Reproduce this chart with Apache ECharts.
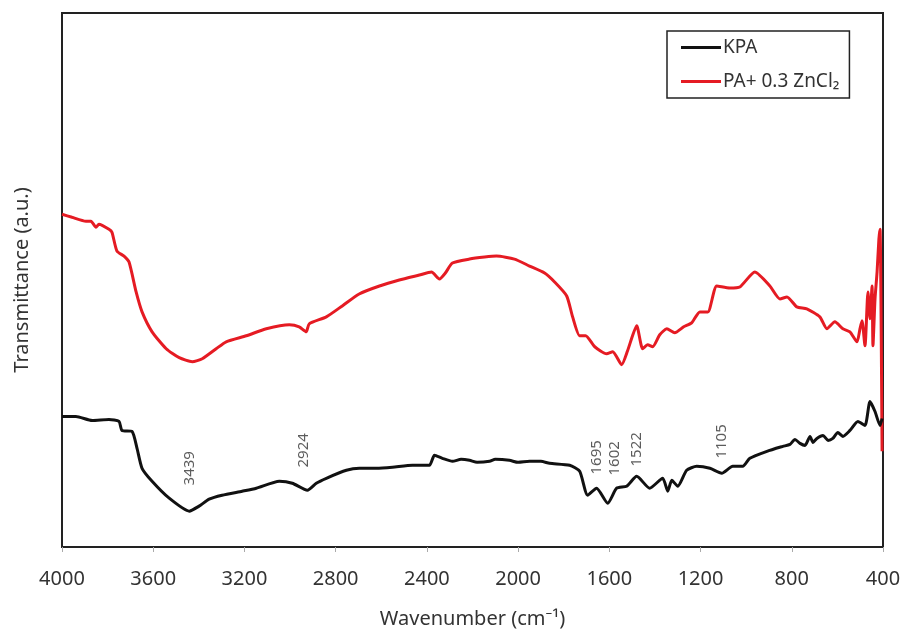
<!DOCTYPE html>
<html>
<head>
<meta charset="utf-8">
<title>FTIR - KPA / PA+ 0.3 ZnCl2</title>
<script src="https://cdn.jsdelivr.net/npm/echarts@6/dist/echarts.min.js"></script>
<style>
  html, body { margin: 0; padding: 0; background: #fff; }
  #chart { width: 904px; height: 634px; }
</style>
</head>
<body>
<div id="chart"></div>
<script>
// wavenumber ticks (cm-1), axis runs 4000 -> 400
const xTicks = [4000, 3600, 3200, 2800, 2400, 2000, 1600, 1200, 800, 400]

// KPA spectrum, [wavenumber, transmittance a.u.]
const kpa = [
  [4000,131],[3939,131],[3868,127],[3794,128],[3750,126],[3737,117],[3693,116],
  [3671,99],[3649,79],[3605,66],[3530,49],[3442,36],[3399,41],[3355,48],[3298,52],
  [3210,56],[3148,59],[3047,66],[2990,64],[2924,57],[2885,64],[2841,69],[2753,77],
  [2696,79],[2621,79],[2551,80],[2463,82],[2389,82],[2367,92],[2332,89],[2288,86],
  [2250,88],[2213,87],[2180,85],[2125,86],[2100,88],[2038,87],[2000,85],[1950,86],
  [1900,86],[1862,84],[1774,82],[1730,76],[1695,52],[1656,59],[1607,44],[1568,59],
  [1524,61],[1480,71],[1423,59],[1366,69],[1344,56],[1326,67],[1300,61],[1261,77],
  [1217,81],[1159,79],[1107,74],[1059,81],[1015,81],[984,89],[909,96],[839,101],
  [808,103],[786,108],[764,104],[742,102],[720,111],[707,105],[690,109],[663,112],
  [641,107],[620,109],[598,115],[576,111],[545,117],[510,126],[479,122],[457,146],
  [435,136],[413,122],[404,129]
]

// PA+ 0.3 ZnCl2 spectrum
const paZn = [
  [4000,334],[3956,331],[3895,327],[3873,327],[3851,321],[3838,324],[3794,319],
  [3781,316],[3759,297],[3728,292],[3706,286],[3675,256],[3649,236],[3605,216],
  [3543,199],[3486,190],[3429,186],[3385,189],[3324,199],[3280,206],[3192,212],
  [3104,219],[3003,223],[2960,221],[2929,216],[2916,224],[2841,231],[2771,242],
  [2697,254],[2608,262],[2521,268],[2433,273],[2380,276],[2345,269],[2319,275],
  [2288,285],[2213,289],[2147,291],[2095,292],[2016,289],[1950,282],[1884,275],
  [1840,266],[1787,252],[1761,231],[1730,212],[1704,212],[1664,201],[1612,194],
  [1585,196],[1546,183],[1520,197],[1480,222],[1454,199],[1432,203],[1410,201],
  [1379,213],[1348,219],[1313,215],[1274,221],[1239,225],[1203,236],[1168,236],
  [1129,262],[1072,260],[1028,261],[962,276],[896,262],[852,249],[821,251],
  [778,241],[734,239],[677,231],[646,219],[611,226],[576,219],[545,216],[514,206],
  [501,219],[492,227],[479,202],[466,256],[457,229],[448,262],[444,202],[435,249],
  [426,276],[418,309],[413,319],[409,249],[404,96]
]

// peak labels on the KPA curve
const peakLabels = ['3439', '2924', '1695', '1602', '1522', '1105']
const peakX = [3442, 2938, 1656, 1577, 1480, 1107]
const peakY = [79, 97, 90, 89, 98, 106]

const font = 'Noto Sans'
const chart = echarts.init(document.getElementById('chart'))
const options = {
  animation: false,
  grid: {
    left: 62,
    right: 21,
    top: 13,
    bottom: 85,
    show: true,
    borderColor: '#222',
    borderWidth: 2,
  },
  legend: {
    data: ['KPA', 'PA+ 0.3 ZnCl₂'],
    orient: 'vertical',
    left: 667,
    top: 31,
    width: 201,
    padding: [7, 10, 7, 14],
    itemGap: 15,
    itemWidth: 40,
    itemHeight: 3,
    icon: 'rect',
    borderColor: '#222',
    borderWidth: 1.5,
    textStyle: {
      fontFamily: font,
      fontSize: 19,
      color: '#333',
      padding: [0, 0, 0, -3],
    },
  },
  xAxis: {
    type: 'value',
    inverse: true,
    min: 400,
    max: 4000,
    interval: 400,
    name: 'Wavenumber (cm⁻¹)',
    nameLocation: 'middle',
    nameGap: 62,
    nameTextStyle: {
      fontFamily: font,
      fontSize: 20,
      color: '#333',
    },
    axisLine: { lineStyle: { color: '#222', width: 2 } },
    axisTick: { show: true, length: 5, lineStyle: { color: '#aaa' } },
    splitLine: { show: false },
    axisLabel: {
      fontFamily: font,
      fontSize: 20,
      color: '#333',
      margin: 22,
      formatter: v => xTicks.includes(v) ? String(v) : '',
    },
  },
  yAxis: {
    type: 'value',
    min: 0,
    max: 536,
    name: 'Transmittance (a.u.)',
    nameLocation: 'middle',
    nameGap: 30,
    nameTextStyle: {
      fontFamily: font,
      fontSize: 20,
      color: '#333',
    },
    axisLine: { show: true, lineStyle: { color: '#222', width: 2 } },
    axisTick: { show: false },
    axisLabel: { show: false },
    splitLine: { show: false },
  },
  series: [
    {
      name: 'KPA',
      type: 'line',
      data: kpa,
      showSymbol: false,
      symbol: 'none',
      smooth: 0.2,
      itemStyle: { color: '#111' },
      lineStyle: { color: '#111', width: 3 },
      z: 3,
    },
    {
      name: 'PA+ 0.3 ZnCl₂',
      type: 'line',
      data: paZn,
      showSymbol: false,
      symbol: 'none',
      smooth: 0.2,
      itemStyle: { color: '#e51b23' },
      lineStyle: { color: '#e51b23', width: 3 },
      z: 2,
    },
    {
      name: 'peaks',
      type: 'scatter',
      symbolSize: 0,
      data: peakLabels.map((t, i) => [peakX[i], peakY[i], t]),
      label: {
        show: true,
        position: 'inside',
        rotate: 90,
        formatter: p => p.data[2],
        fontFamily: font,
        fontSize: 15,
        color: '#333',
      },
      z: 4,
    },
  ],
}
chart.setOption(options)
</script>
</body>
</html>
